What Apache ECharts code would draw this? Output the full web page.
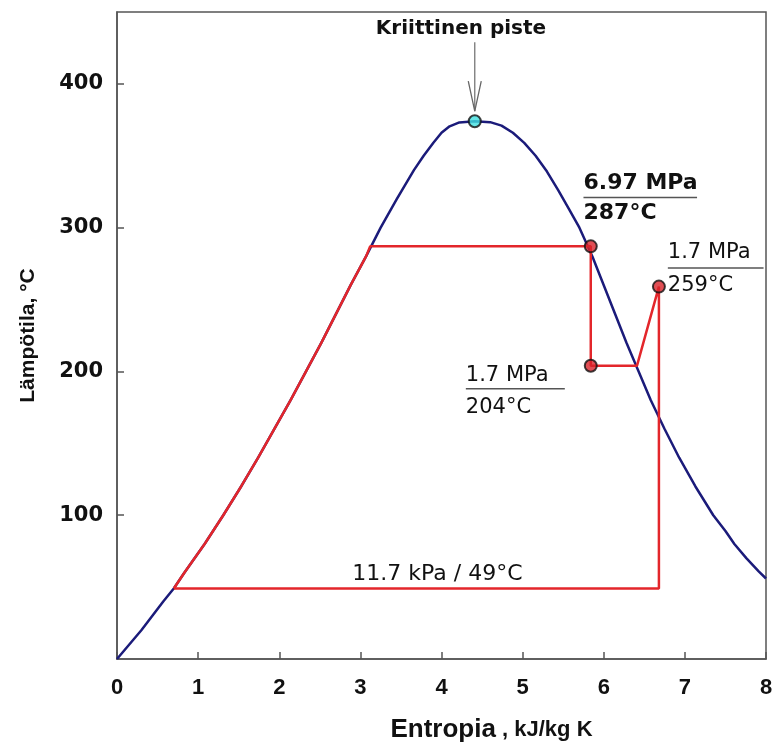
<!DOCTYPE html>
<html>
<head>
<meta charset="utf-8">
<script src="https://cdn.jsdelivr.net/npm/echarts@6/dist/echarts.min.js"></script>
<style>
  html, body { margin: 0; padding: 0; background: #fff; }
  #chart { width: 777px; height: 751px; }
</style>
</head>
<body>
<div id="chart"></div>
<script>
// kyllästyskäyrä (entropia kJ/kgK, lämpötila °C)
var domeData = [
  [0, 0], [0.30, 20], [0.57, 40], [0.70, 49], [0.83, 60], [1.08, 80], [1.31, 100],
  [1.53, 120], [1.74, 140], [1.94, 160], [2.14, 180], [2.33, 200], [2.52, 220],
  [2.70, 240], [2.88, 260], [3.07, 280], [3.25, 300], [3.45, 320], [3.66, 340],
  [3.78, 350], [3.90, 359], [4.00, 366], [4.10, 370.5], [4.22, 373.2], [4.41, 374],
  [4.60, 373.4], [4.74, 371], [4.88, 366], [5.02, 359], [5.16, 350], [5.30, 339],
  [5.44, 326], [5.57, 313], [5.70, 300], [5.86, 280], [6.00, 260], [6.14, 240],
  [6.28, 220], [6.43, 200], [6.58, 180], [6.75, 160], [6.93, 140], [7.13, 120],
  [7.35, 100], [7.50, 89], [7.61, 80], [7.76, 70], [7.91, 61], [8.0, 56]
];
// kiertoprosessi (punainen)
var cycleData = [
  [0.70, 49], [0.83, 60], [1.08, 80], [1.31, 100], [1.53, 120], [1.74, 140],
  [1.94, 160], [2.14, 180], [2.33, 200], [2.52, 220], [2.70, 240], [2.88, 260],
  [3.07, 280], [3.12, 287], [5.84, 287], [5.84, 204], [6.41, 204], [6.68, 259],
  [6.68, 49], [0.70, 49]
];
var statePoints = [[5.84, 287], [5.84, 204], [6.68, 259]];
var criticalPoint = [[4.41, 374]];
var arrowShaft = [[4.41, 429], [4.41, 381]];
var arrowHead = [[4.33, 402], [4.41, 381], [4.49, 402]];
var xTicks = [0, 1, 2, 3, 4, 5, 6, 7, 8];
var yTicks = [100, 200, 300, 400];

// tekstit: [x, y, teksti, lihavoitu]
var annoTexts = [
  [5.75, 331, '6.97 MPa', true], [5.75, 310, '287°C', true],
  [6.79, 283, '1.7 MPa', false], [6.79, 260, '259°C', false],
  [4.30, 197, '1.7 MPa', false], [4.30, 175, '204°C', false]
];
// murtoviivat: [x1, x2, y]
var fracBars = [[5.75, 7.15, 321], [6.79, 7.97, 272], [4.30, 5.52, 188]];

var chart = echarts.init(document.getElementById('chart'));

var option = {
  backgroundColor: '#fff',
  animation: false,
  grid: {
    left: 117, right: 11, top: 12, bottom: 92,
    show: true, borderColor: '#555', borderWidth: 1.5
  },
  xAxis: {
    type: 'value', min: 0, max: 8, interval: 1,
    name: '{a|Entropia}{b| , kJ/kg K}',
    nameLocation: 'middle', nameGap: 58,
    nameTextStyle: {
      padding: [0, 0, 0, 100],
      rich: {
        a: { fontFamily: '"Liberation Sans", Arial', fontWeight: 'bold', fontSize: 26, color: '#111' },
        b: { fontFamily: '"Liberation Sans", Arial', fontWeight: 'bold', fontSize: 22, color: '#111' }
      }
    },
    axisLine: { lineStyle: { color: '#555', width: 1.5 } },
    axisTick: { inside: true, length: 7, lineStyle: { color: '#555', width: 1.5 } },
    splitLine: { show: false },
    axisLabel: {
      margin: 18, color: '#111', fontSize: 22, fontWeight: 'bold',
      fontFamily: '"Liberation Sans Narrow", "Liberation Sans", Arial',
      formatter: function (v) { return xTicks.indexOf(v) >= 0 ? String(v) : ''; }
    }
  },
  yAxis: {
    type: 'value', min: 0, max: 450, interval: 100,
    name: 'Lämpötila, °C',
    nameLocation: 'middle', nameGap: 78, nameRotate: 90,
    nameTextStyle: { fontFamily: '"Liberation Sans", Arial', fontWeight: 'bold', fontSize: 21, color: '#111' },
    axisLine: { lineStyle: { color: '#555', width: 1.5 } },
    axisTick: { inside: true, length: 7, lineStyle: { color: '#555', width: 1.5 } },
    splitLine: { show: false },
    axisLabel: {
      margin: 14, color: '#111', fontSize: 21, fontWeight: 'bold',
      fontFamily: '"DejaVu Sans", Verdana',
      showMinLabel: false, showMaxLabel: false,
      formatter: function (v) { return yTicks.indexOf(v) >= 0 ? String(v) : ''; }
    }
  },
  series: [
    {
      name: 'kyllästyskäyrä', type: 'line', data: domeData,
      symbol: 'none',
      lineStyle: { color: '#1b1b7a', width: 2.5, join: 'round' }, z: 2
    },
    {
      name: 'kierto', type: 'line', data: cycleData,
      symbol: 'none', lineStyle: { color: '#e3262b', width: 2.5 }, z: 3
    },
    {
      name: 'nuoli', type: 'line', data: arrowShaft, symbol: 'none',
      lineStyle: { color: '#777', width: 1.3 }, z: 4
    },
    {
      name: 'nuolenpää', type: 'line', data: arrowHead, symbol: 'none',
      lineStyle: { color: '#666', width: 1.3 }, z: 4
    },
    {
      name: 'tilapisteet', type: 'scatter', data: statePoints, symbolSize: 12,
      itemStyle: { color: '#d8232a', borderColor: '#111', borderWidth: 2 }, z: 5
    },
    {
      name: 'kriittinen', type: 'scatter', data: criticalPoint, symbolSize: 12,
      itemStyle: { color: '#3ee0e0', borderColor: '#111', borderWidth: 2 }, z: 6
    }
  ]
};
chart.setOption(option);

// annotaatiot pikseleinä akselien kautta
function px(p) { return chart.convertToPixel({ gridIndex: 0 }, p); }
var graphics = [];
var kp = px([4.24, 438]);
graphics.push({
  type: 'text', x: kp[0], y: kp[1],
  style: { text: 'Kriittinen piste', fill: '#111', font: 'bold 20px "DejaVu Sans", Verdana', align: 'center', verticalAlign: 'middle' }
});
annoTexts.forEach(function (t) {
  var p = px([t[0], t[1]]);
  graphics.push({
    type: 'text', x: p[0], y: p[1],
    style: {
      text: t[2], fill: '#111', align: 'left', verticalAlign: 'middle',
      font: (t[3] ? 'bold 22px ' : '21px ') + '"DejaVu Sans", Verdana'
    }
  });
});
fracBars.forEach(function (b) {
  var a = px([b[0], b[2]]), c = px([b[1], b[2]]);
  graphics.push({
    type: 'line', shape: { x1: a[0], y1: a[1], x2: c[0], y2: c[1] },
    style: { stroke: '#555', lineWidth: 1.5 }
  });
});
var lp = px([3.95, 59]);
graphics.push({
  type: 'text', x: lp[0], y: lp[1],
  style: { text: '11.7 kPa / 49°C', fill: '#111', font: '22px "DejaVu Sans", Verdana', align: 'center', verticalAlign: 'middle' }
});
chart.setOption({ graphic: graphics });
</script>
</body>
</html>
